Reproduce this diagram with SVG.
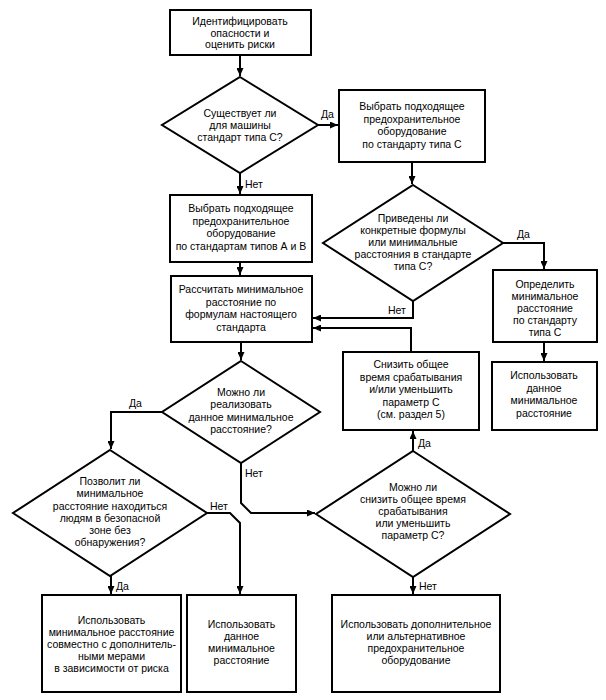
<svg xmlns="http://www.w3.org/2000/svg" width="606" height="700" viewBox="0 0 606 700">
<style>
.box{fill:#fff;stroke:#000;stroke-width:2}
.dia{fill:#fff;stroke:#000;stroke-width:2}
.con{fill:none;stroke:#000;stroke-width:2}
text{font-family:"Liberation Sans",Arial,sans-serif;font-size:10.5px;fill:#000}
.c{text-anchor:middle}
</style>
<defs>
<marker id="ah" markerUnits="userSpaceOnUse" markerWidth="8" markerHeight="7" refX="8" refY="3.5" orient="auto">
<path d="M0,0 L8,3.5 L0,7 z" fill="#000"/>
</marker>
</defs>
<rect width="606" height="700" fill="#fff"/>
<g id="connectors">
<path class="con" d="M240,55 V76" marker-end="url(#ah)"/>
<path class="con" d="M318,125 H338" marker-end="url(#ah)"/>
<path class="con" d="M240,173 V194" marker-end="url(#ah)"/>
<path class="con" d="M412,162 V184" marker-end="url(#ah)"/>
<path class="con" d="M240,262 V275" marker-end="url(#ah)"/>
<path class="con" d="M503,243 H544 V269" marker-end="url(#ah)"/>
<path class="con" d="M413,301 V318 H313" marker-end="url(#ah)"/>
<path class="con" d="M411,352 V328 H313" marker-end="url(#ah)"/>
<path class="con" d="M544,342 V361" marker-end="url(#ah)"/>
<path class="con" d="M241,342 V360" marker-end="url(#ah)"/>
<path class="con" d="M162,412 H111 V449" marker-end="url(#ah)"/>
<path class="con" d="M241,463 V503 L251,513 H315" marker-end="url(#ah)"/>
<path class="con" d="M413,451 V431" marker-end="url(#ah)"/>
<path class="con" d="M207,513 H230 L240,523 V594" marker-end="url(#ah)"/>
<path class="con" d="M111,576 V594" marker-end="url(#ah)"/>
<path class="con" d="M413,577 V594" marker-end="url(#ah)"/>
<text x="321" y="118">Да</text>
<text x="245" y="188">Нет</text>
<text x="517" y="238">Да</text>
<text x="388" y="314">Нет</text>
<text x="129" y="407">Да</text>
<text x="245" y="477">Нет</text>
<text x="418" y="447">Да</text>
<text x="210" y="510">Нет</text>
<text x="116" y="590">Да</text>
<text x="419" y="590">Нет</text>
</g>
<g id="n1">
<rect class="box" x="170" y="10" width="141" height="45"/>
<text class="c" x="240" y="25">Идентифицировать</text>
<text class="c" x="240" y="36.5">опасности и</text>
<text class="c" x="240" y="48">оценить риски</text>
</g>
<g id="d1">
<polygon class="dia" points="240,77 318,125 240,173 162,125"/>
<text class="c" x="240" y="117">Существует ли</text>
<text class="c" x="240" y="129">для машины</text>
<text class="c" x="240" y="141">стандарт типа С?</text>
</g>
<g id="n2">
<rect class="box" x="339" y="90" width="146" height="72"/>
<text class="c" x="412" y="110">Выбрать подходящее</text>
<text class="c" x="412" y="122.5">предохранительное</text>
<text class="c" x="412" y="135">оборудование</text>
<text class="c" x="412" y="147.5">по стандарту типа С</text>
</g>
<g id="n3">
<rect class="box" x="170" y="195" width="142" height="67"/>
<text class="c" x="241" y="212">Выбрать подходящее</text>
<text class="c" x="241" y="224.5">предохранительное</text>
<text class="c" x="241" y="237">оборудование</text>
<text class="c" x="241" y="249.5">по стандартам типов А и В</text>
</g>
<g id="d2">
<polygon class="dia" points="413,185 503,243 413,301 323,243"/>
<text class="c" x="413" y="222">Приведены ли</text>
<text class="c" x="413" y="234">конкретные формулы</text>
<text class="c" x="413" y="246">или минимальные</text>
<text class="c" x="413" y="258">расстояния в стандарте</text>
<text class="c" x="413" y="270">типа С?</text>
</g>
<g id="n4">
<rect class="box" x="171" y="276" width="141" height="66"/>
<text class="c" x="241" y="293">Рассчитать минимальное</text>
<text class="c" x="241" y="305.5">расстояние по</text>
<text class="c" x="241" y="318">формулам настоящего</text>
<text class="c" x="241" y="330.5">стандарта</text>
</g>
<g id="n5">
<rect class="box" x="493" y="270" width="104" height="72"/>
<text class="c" x="545" y="288">Определить</text>
<text class="c" x="545" y="300">минимальное</text>
<text class="c" x="545" y="312">расстояние</text>
<text class="c" x="545" y="324">по стандарту</text>
<text class="c" x="545" y="336">типа С</text>
</g>
<g id="n6">
<rect class="box" x="492" y="362" width="105" height="68"/>
<text class="c" x="544" y="379">Использовать</text>
<text class="c" x="544" y="391.5">данное</text>
<text class="c" x="544" y="404">минимальное</text>
<text class="c" x="544" y="416.5">расстояние</text>
</g>
<g id="n7">
<rect class="box" x="343" y="352" width="136" height="78"/>
<text class="c" x="411" y="368">Снизить общее</text>
<text class="c" x="411" y="380.5">время срабатывания</text>
<text class="c" x="411" y="393">и/или уменьшить</text>
<text class="c" x="411" y="405.5">параметр С</text>
<text class="c" x="411" y="418">(см. раздел 5)</text>
</g>
<g id="d3">
<polygon class="dia" points="241,361 320,412 241,463 162,412"/>
<text class="c" x="241" y="396">Можно ли</text>
<text class="c" x="241" y="408">реализовать</text>
<text class="c" x="241" y="420.5">данное минимальное</text>
<text class="c" x="241" y="432.5">расстояние?</text>
</g>
<g id="d5">
<polygon class="dia" points="110,450 207,513 110,576 13,513"/>
<text class="c" x="110" y="485">Позволит ли</text>
<text class="c" x="110" y="497">минимальное</text>
<text class="c" x="110" y="509.5">расстояние находиться</text>
<text class="c" x="110" y="521.5">людям в безопасной</text>
<text class="c" x="110" y="533.5">зоне без</text>
<text class="c" x="110" y="545.5">обнаружения?</text>
</g>
<g id="d4">
<polygon class="dia" points="413,451 510,514 413,577 316,514"/>
<text class="c" x="413" y="491">Можно ли</text>
<text class="c" x="413" y="503">снизить общее время</text>
<text class="c" x="413" y="515">срабатывания</text>
<text class="c" x="413" y="527">или уменьшить</text>
<text class="c" x="413" y="539">параметр С?</text>
</g>
<g id="n8">
<rect class="box" x="42" y="595" width="139" height="97"/>
<text class="c" x="111.5" y="624">Использовать</text>
<text class="c" x="111.5" y="636">минимальное расстояние</text>
<text class="c" x="111.5" y="648">совместно с дополнитель-</text>
<text class="c" x="111.5" y="660">ными мерами</text>
<text class="c" x="111.5" y="672">в зависимости от риска</text>
</g>
<g id="n9">
<rect class="box" x="187" y="595" width="109" height="97"/>
<text class="c" x="241.5" y="628">Использовать</text>
<text class="c" x="241.5" y="640">данное</text>
<text class="c" x="241.5" y="652">минимальное</text>
<text class="c" x="241.5" y="664">расстояние</text>
</g>
<g id="n10">
<rect class="box" x="332" y="595" width="168" height="97"/>
<text class="c" x="416" y="628">Использовать дополнительное</text>
<text class="c" x="416" y="640">или альтернативное</text>
<text class="c" x="416" y="652">предохранительное</text>
<text class="c" x="416" y="664">оборудование</text>
</g>
</svg>
